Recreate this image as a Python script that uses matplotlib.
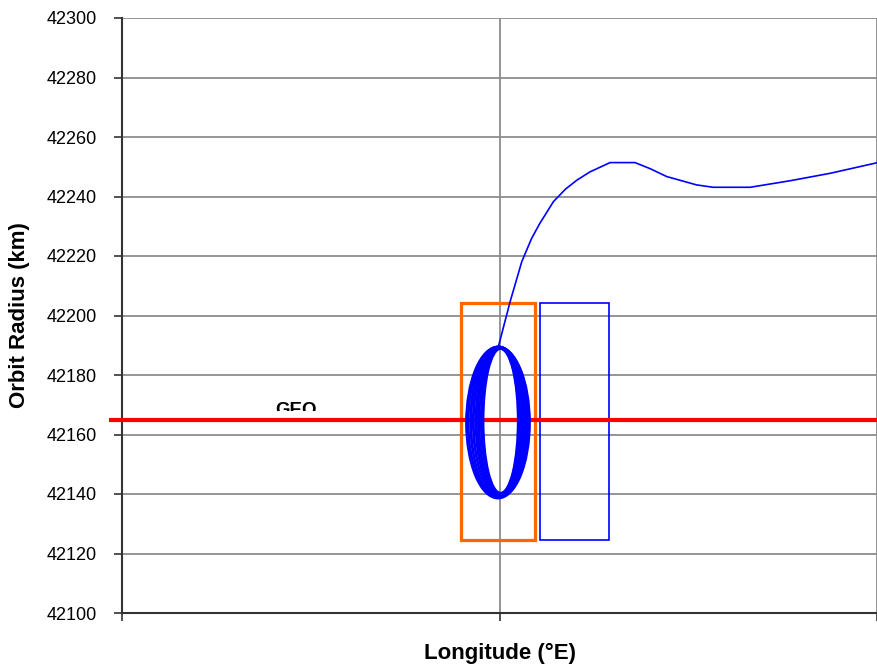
import matplotlib
matplotlib.use("Agg")
import matplotlib.pyplot as plt
from matplotlib.patches import Ellipse, Rectangle
from matplotlib.transforms import Bbox, TransformedBbox

plt.rcParams['font.family'] = ['Liberation Sans', 'DejaVu Sans']

# longitude given as offset (deg) from the slot centre, radius in km
traj_lon = [-0.003, 0.028, 0.059, 0.085, 0.107, 0.143, 0.175, 0.205, 0.240, 0.293,
            0.359, 0.400, 0.443, 0.522, 0.566, 0.664, 0.770, 0.876, 0.995, 1.0]
traj_r = [42189.5, 42204.6, 42218.1, 42225.9, 42231.0, 42238.3, 42242.5, 42245.5,
          42248.3, 42251.4, 42251.4, 42249.3, 42246.7, 42243.9, 42243.1, 42243.1,
          42245.3, 42247.8, 42251.2, 42251.4]

# daily loops of the station-kept satellite
loop_lon = [-0.004, -0.003, -0.003, -0.002, -0.002, -0.001, -0.001, 0.0,
            0.0, 0.001, 0.001, 0.002, 0.002, 0.003]
loop_r = [42164.0, 42164.2, 42164.1, 42164.3, 42164.0, 42164.4, 42164.2, 42164.5,
          42164.3, 42164.6, 42164.4, 42164.7, 42164.5, 42164.6]
loop_dlon = [0.169, 0.163, 0.158, 0.151, 0.146, 0.139, 0.134, 0.127,
             0.121, 0.116, 0.109, 0.103, 0.097, 0.091]
loop_dr = [51.0, 50.8, 50.6, 50.5, 50.2, 50.0, 49.8, 49.7,
           49.5, 49.2, 49.0, 48.9, 48.6, 48.4]

# station-keeping boxes: lon min, lon max, r min, r max
box_old = [-0.103, 0.094, 42124.5, 42204.3]
box_new = [0.106, 0.289, 42124.5, 42204.3]

geo_r = 42165
geo_lon = [-1.03, 1.0]

fig = plt.figure(figsize=(8.77, 6.71), dpi=100)
ax = fig.add_axes([122 / 877, 58 / 671, 755 / 877, 595 / 671])

ax.set_xlim(-1, 1)
ax.set_ylim(42100, 42300)
ax.set_xticks([-1, 0, 1])
ax.set_xticklabels([])
ax.set_yticks(range(42100, 42301, 20))
ax.grid(True, color='#8c8c8c', linewidth=1.3)
ax.set_axisbelow(True)
for s in ['top', 'right']:
    ax.spines[s].set_visible(False)
for s in ['left', 'bottom']:
    ax.spines[s].set_color('#333333')
    ax.spines[s].set_linewidth(1.5)
ax.tick_params(direction='out', length=6, width=1.2, color='#333333',
               labelsize=13, pad=12)

ax.plot(geo_lon, [geo_r, geo_r], color='#ff0000', linewidth=3.0, clip_on=False, zorder=4)

for x, y, w, h in zip(loop_lon, loop_r, loop_dlon, loop_dr):
    ax.add_patch(Ellipse((x, y), w, h, fill=False, edgecolor='#0000ff', linewidth=1.4, zorder=5))
ax.plot(traj_lon, traj_r, color='#0000ff', linewidth=1.2, zorder=5)

ax.add_patch(Rectangle((box_old[0], box_old[2]), box_old[1] - box_old[0], box_old[3] - box_old[2],
                       fill=False, edgecolor='#ff6600', linewidth=2.3, zorder=3))
ax.add_patch(Rectangle((box_new[0], box_new[2]), box_new[1] - box_new[0], box_new[3] - box_new[2],
                       fill=False, edgecolor='#0000ff', linewidth=1.2, zorder=3))

# the label sits partly hidden in the original, lower part cut away
geo_txt = ax.text(-0.539, 42171, 'GEO', fontsize=13.5, fontweight='bold',
                  ha='center', va='top', zorder=3)
geo_txt.set_clip_on(True)
geo_txt.set_clip_box(TransformedBbox(Bbox([[-1, 42168], [1, 42300]]), ax.transData))

ax.set_xlabel('Longitude (°E)', fontsize=16, fontweight='bold')
ax.xaxis.set_label_coords(0.5, -0.05)
ax.set_ylabel('Orbit Radius (km)', fontsize=16, fontweight='bold', labelpad=12)

plt.savefig('out.png', dpi=100)
